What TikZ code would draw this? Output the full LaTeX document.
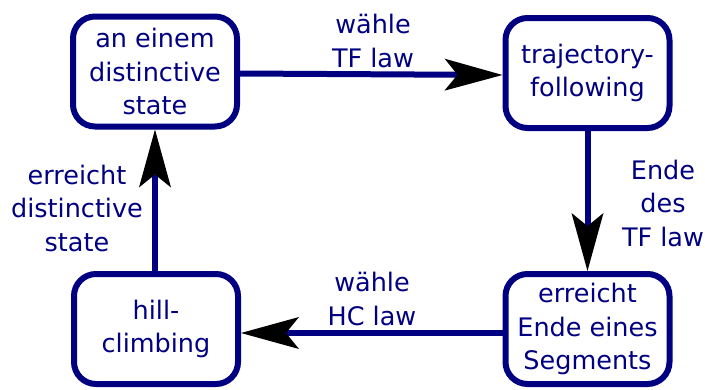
\documentclass[tikz,border=0pt]{standalone}
\usepackage{fontspec}
\setmainfont{DejaVu Sans}
\usetikzlibrary{arrows.meta}
\definecolor{navy}{RGB}{0,0,128}
\begin{document}
\begin{tikzpicture}[x=1pt,y=-1pt,
  statebox/.style={draw=navy, line width=6pt, rounded corners=22pt,
    minimum width=164pt, minimum height=110pt, inner sep=0pt,
    align=center, text=navy, font=\fontsize{25.5}{33.5}\selectfont},
  lbl/.style={align=center, text=navy, font=\fontsize{25.5}{33.5}\selectfont, inner sep=0pt},
  flow/.style={draw=navy, line width=6pt,
    -{Stealth[length=58pt, width=32pt, inset=13pt, line width=0pt, black]}}]
  \useasboundingbox (0,0) rectangle (705,389);

  % states
  \node[statebox] (dist) at (155,71.5) {an einem\\distinctive\\state};
  \node[statebox] (tf)   at (587.5,73) {trajectory-\\following};
  \node[statebox] (seg)  at (587.5,329) {erreicht\\Ende eines\\Segments};
  \node[statebox] (hc)   at (156,329) {hill-\\climbing};

  % transitions
  \draw[flow] ([yshift=-2pt]dist.east) -- ([yshift=-2pt]tf.west);
  \draw[flow] (tf.south) -- (seg.north);
  \draw[flow] ([yshift=-4pt]seg.west) -- ([yshift=-4pt]hc.east);
  \draw[flow] (hc.north -| dist.south) -- (dist.south);

  % transition labels
  \node[lbl] (l1) at (373,41) {wähle\\TF law};
  \node[lbl] (l2) at (663,203) {Ende\\des\\TF law};
  \node[lbl] (l3) at (372,299) {wähle\\HC law};
  \node[lbl] (l4) at (77,208) {erreicht\\distinctive\\state};
\end{tikzpicture}
\end{document}
